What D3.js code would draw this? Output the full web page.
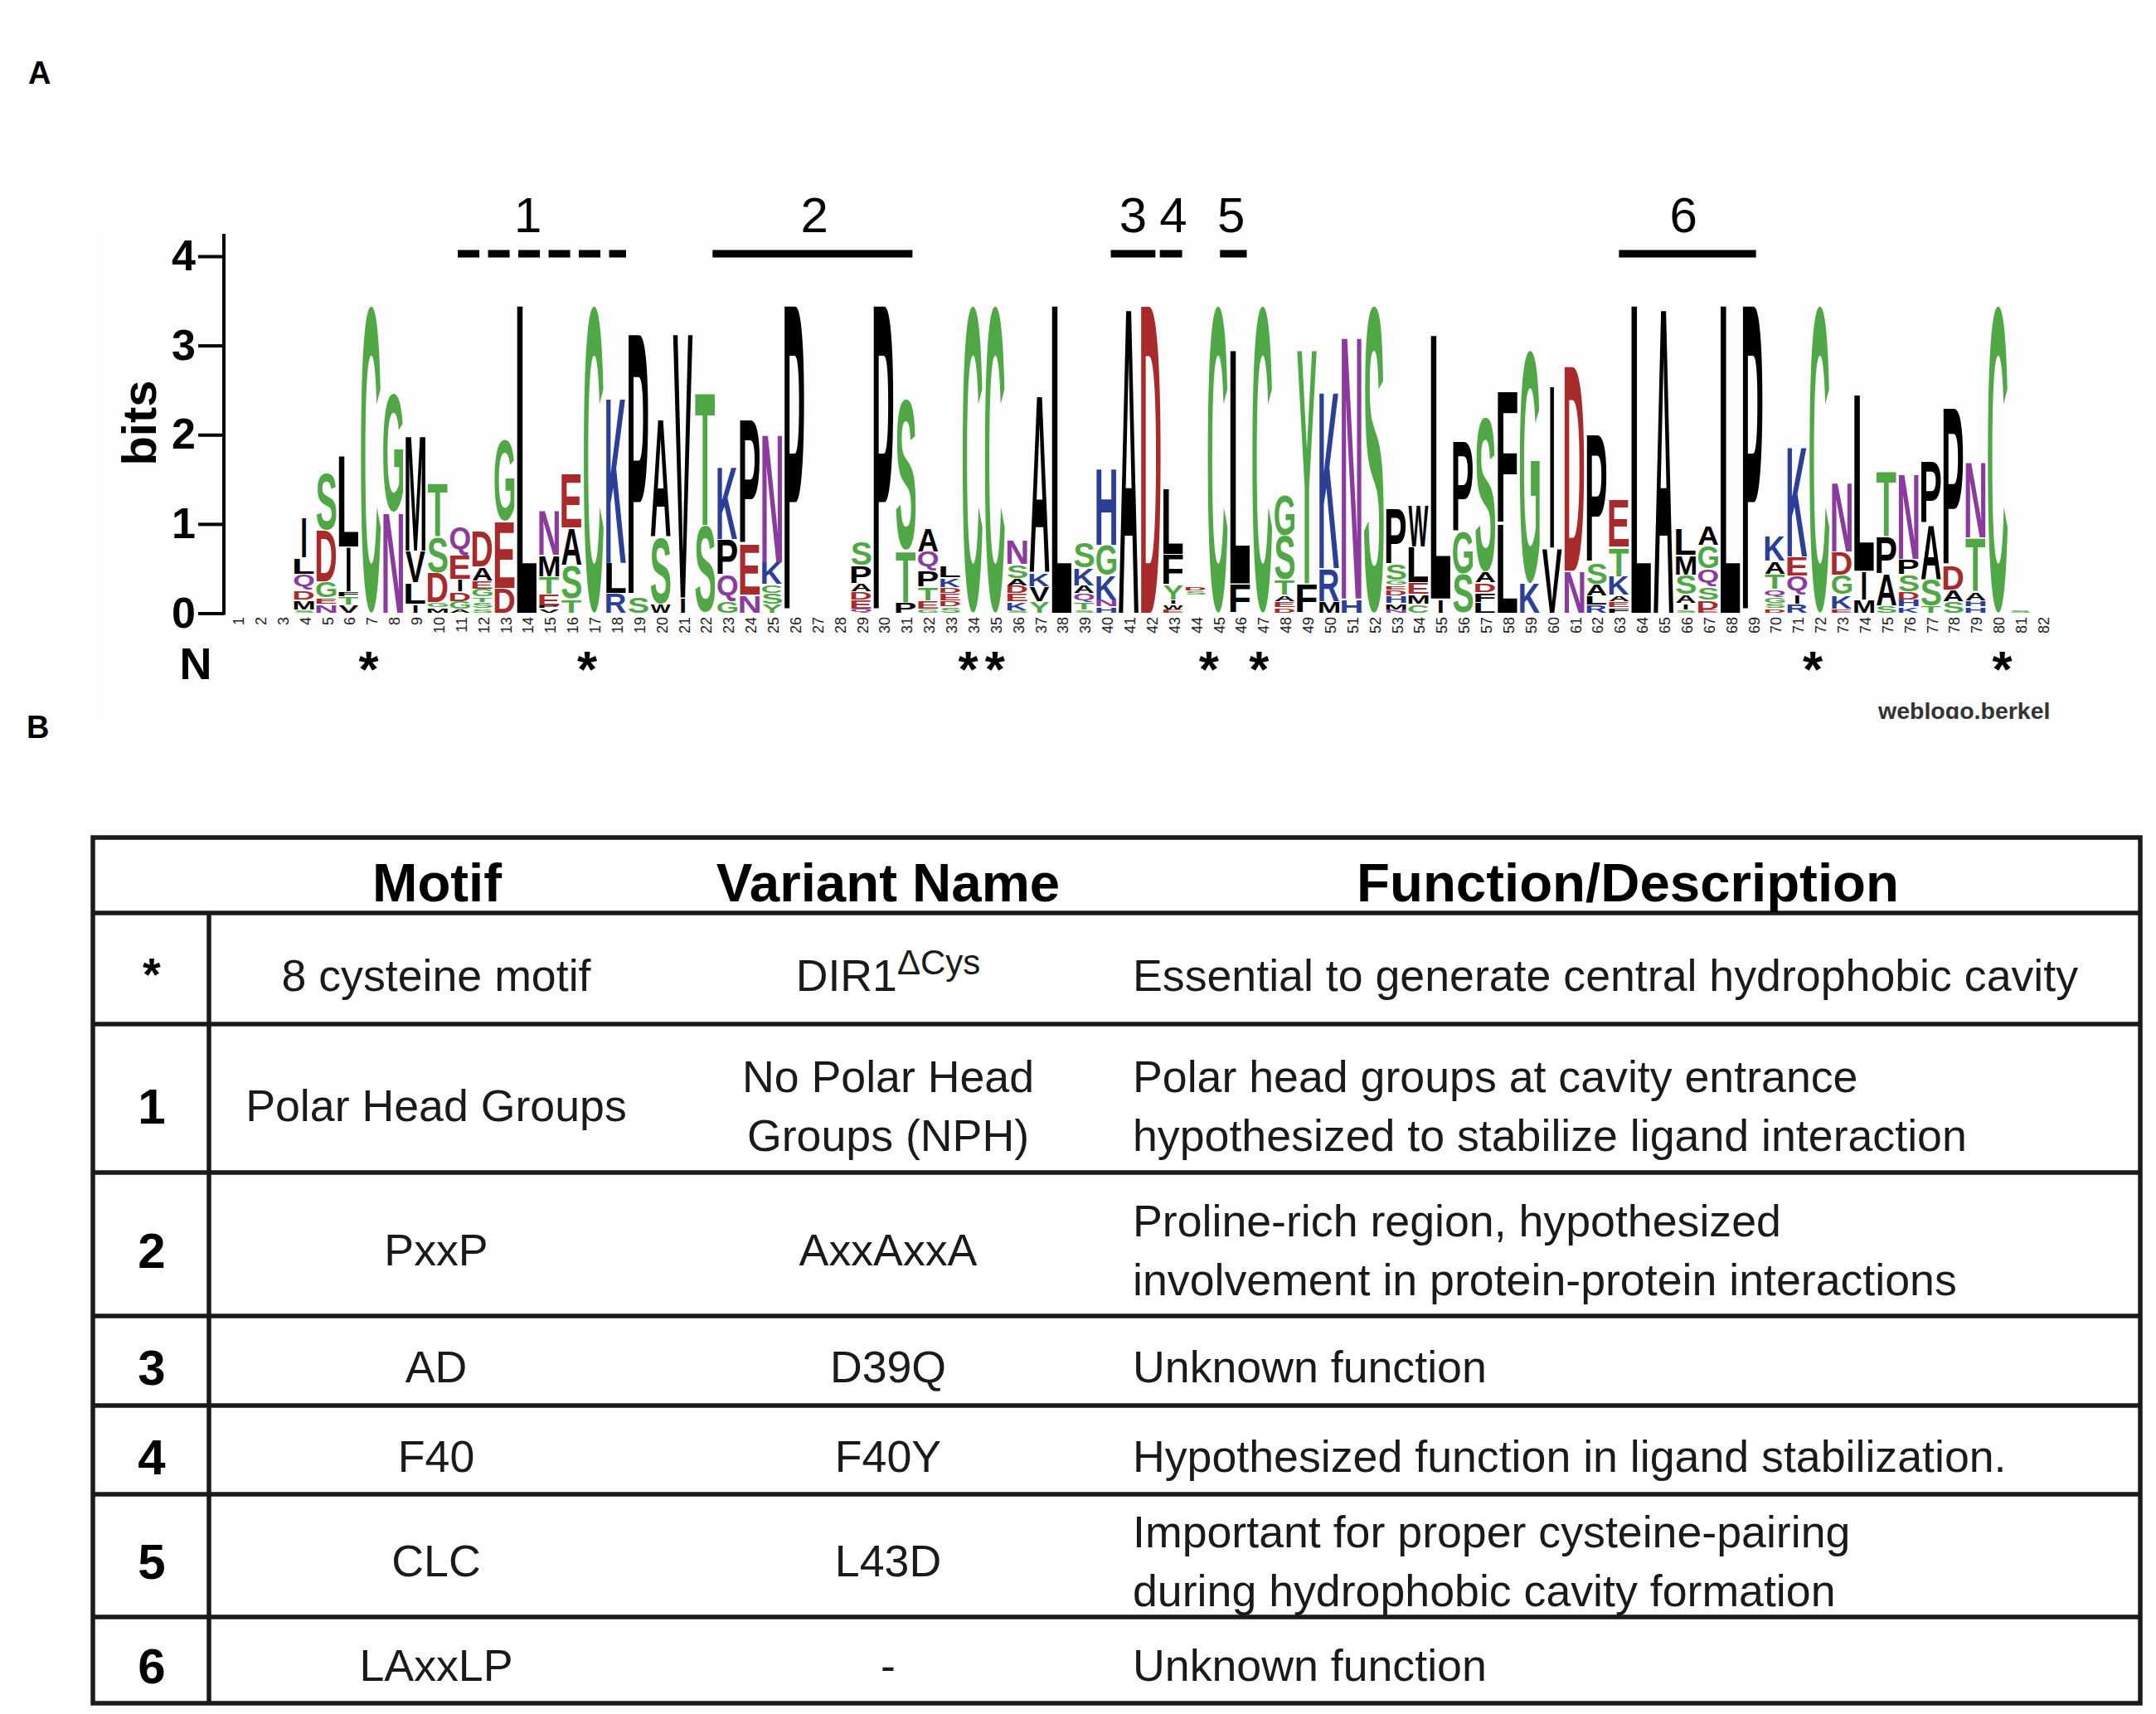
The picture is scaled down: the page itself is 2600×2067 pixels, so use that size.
<!DOCTYPE html>
<html>
<head>
<meta charset="utf-8">
<script src="https://cdn.jsdelivr.net/npm/d3@7"></script>
<style>
html, body { margin: 0; padding: 0; background: #fff; }
svg { display: block; }
text { font-family: "Liberation Sans", Arial, sans-serif; fill: #000; }
</style>
</head>
<body>
<svg id="figure"></svg>
<script>
// letters of each column, bottom to top ("-" is an empty gap in the stack)
var columnLetters = [
    "", "", "", "SMDQLI", "NEGDS", "VTFIL", "C", "NG", "ILVM", "MGDST",
    "AGDIEQ", "SSTGEAD", "DEG", "L", "VPETMN", "TSAE", "C", "RLK", "SP", "WSA",
    "IV", "ST", "GQPK", "NEP", "YSCKN", "P", "", "", "QEDAPS", "P",
    "PTS", "GETPQA", "SDEDKL", "C", "C", "SKEDASN", "YVKA", "L", "STQAKS", "HNKGH",
    "A", "D", "EWIYFL", "-SD", "C", "FL", "C", "DEATSG", "FY", "MRK",
    "HN", "S", "NMHDEGSP", "CMELW", "IL", "SGP", "LFDAS", "LF", "KG", "VI",
    "ND", "RLASP", "FEAKTE", "L", "A", "SIASML", "EDSQGA", "L", "P", "DSGQTAK",
    "RIQEK", "C", "EKGDN", "MIL", "SAPT", "KHDSPN", "TSAP", "SADP", "HHATN", "C",
    "S", ""
];

// bits of each letter, same order as columnLetters
var columnBits = [
    [], [], [], [.04,.11,.11,.18,.18,.46], [.1,.07,.18,.58,.65], [.09,.09,.06,.5,1.02], [3.45], [1.13,1.33], [.1,.24,.36,1.3], [.06,.06,.33,.4,.6],
    [.04,.09,.11,.14,.27,.32], [.05,.07,.06,.09,.09,.16,.4], [.28,.75,.92], [3.45], [.05,.03,.13,.2,.24,.5], [.16,.38,.42,.6], [3.45], [.22,.34,1.87], [.18,2.95], [.1,.75,1.33],
    [.17,2.96], [.98,1.5], [.13,.3,.4,.82], [.2,.57,1.4], [.1,.12,.1,.25,1.45], [3.45], [], [], [.05,.1,.09,.09,.2,.27], [3.45],
    [.12,.58,1.7], [.05,.09,.15,.18,.22,.26], [.07,.07,.08,.07,.11,.13], [3.45], [3.45], [.03,.1,.09,.09,.08,.16,.27], [.13,.17,.16,2.0], [3.45], [.04,.08,.1,.09,.2,.29], [.07,.08,.27,.34,.87],
    [3.45], [3.45], [.04,.06,.05,.17,.34,.74], [.2,.05,.05], [3.45], [.33,2.62], [3.45], [.06,.07,.07,.17,.5,.46], [.33,2.62], [.13,.37,2.0],
    [.16,2.97], [3.45], [.04,.07,.08,.07,.05,.06,.18,.62], [.1,.11,.13,.4,.46], [.16,2.96], [.44,.47,1.01], [.12,.11,.11,.12,1.74], [1.0,1.48], [.33,2.62], [.73,1.84],
    [.47,2.3], [.09,.1,.13,.24,1.44], [.06,.07,.07,.21,.33,.53], [3.45], [3.45], [.04,.07,.1,.22,.22,.3], [.04,.11,.15,.2,.26,.22], [3.45], [3.45], [.05,.06,.07,.09,.17,.14,.29],
    [.1,.11,.21,.21,1.24], [3.45], [.05,.16,.22,.26,.78], [.15,.32,1.98], [.08,.36,.42,.74], [.07,.08,.09,.19,.17,.97], [.08,.3,.62,.7], [.13,.13,.27,1.77], [.07,.07,.1,.6,.85], [3.45],
    [.03], []
];

var bitTicks = [0, 1, 2, 3, 4];
var asteriskColumns = [6.9, 16.7, 33.8, 35, 44.6, 46.85, 71.7, 80.2];

// motif brackets above the logo, in column units
var motifLabels = ["1", "2", "3", "4", "5", "6"];
var motifStart = [10.9, 22.33, 40.2, 42.4, 45.1, 63];
var motifEnd = [18.45, 31.3, 42.2, 43.4, 46.3, 69.15];
var motifLabelAt = [14.05, 26.9, 41.2, 43.0, 45.6, 65.9];

// table
var tableHeaders = ["Motif", "Variant Name", "Function/Description"];
var rowKeys = ["*", "1", "2", "3", "4", "5", "6"];
var rowMotifs = ["8 cysteine motif", "Polar Head Groups", "PxxP", "AD", "F40", "CLC", "LAxxLP"];
var rowVariants = [["DIR1"], ["No Polar Head", "Groups (NPH)"], ["AxxAxxA"], ["D39Q"], ["F40Y"], ["L43D"], ["-"]];
var rowDescriptions = [
    ["Essential to generate central hydrophobic cavity"],
    ["Polar head groups at cavity entrance", "hypothesized to stabilize ligand interaction"],
    ["Proline-rich region, hypothesized", "involvement in protein-protein interactions"],
    ["Unknown function"],
    ["Hypothesized function in ligand stabilization."],
    ["Important for proper cysteine-pairing", "during hydrophobic cavity formation"],
    ["Unknown function"]
];

var letterColors = {
    C: "#4fa845", G: "#4fa845", S: "#4fa845", T: "#4fa845", Y: "#4fa845",
    K: "#2b3f98", R: "#2b3f98", H: "#2b3f98",
    D: "#a82a2a", E: "#a82a2a",
    N: "#8b3a9e", Q: "#8b3a9e"
};

var svg = d3.select("#figure")
    .attr("width", 2600)
    .attr("height", 2067);

svg.append("rect")
    .attr("width", 2600)
    .attr("height", 2067)
    .style("fill", "#fff");

svg.append("text").attr("x", 34).attr("y", 101).attr("font-size", "38px").attr("font-weight", "bold").text("A");
svg.append("text").attr("x", 32).attr("y", 890).attr("font-size", "38px").attr("font-weight", "bold").text("B");

// ---- logo ----
svg.append("rect")
    .attr("x", 113)
    .attr("y", 275)
    .attr("width", 2359)
    .attr("height", 593)
    .style("fill", "#fdfdfd");

var xScale = d3.scaleLinear().domain([1, 82]).range([286, 2463]);
var yScale = d3.scaleLinear().domain([0, 4]).range([739.5, 309]);

var yAxis = svg.append("g")
    .attr("class", "yAxis")
    .attr("transform", "translate(270,0)")
    .call(d3.axisLeft(yScale)
        .tickValues(bitTicks)
        .tickFormat(d3.format("d"))
        .tickSize(31)
        .tickPadding(3)
        .tickSizeOuter(0));
yAxis.select(".domain").remove();
yAxis.append("line")
    .attr("y1", yScale(0) + 2)
    .attr("y2", 282)
    .style("stroke", "#000")
    .style("stroke-width", "4px");
yAxis.selectAll(".tick line").style("stroke", "#000").style("stroke-width", "4px");
yAxis.selectAll(".tick text")
    .attr("font-size", "52px")
    .attr("font-weight", "bold")
    .attr("font-family", "Liberation Sans");

svg.append("text")
    .attr("transform", "translate(188,510) rotate(-90)")
    .attr("text-anchor", "middle")
    .attr("font-size", "58px")
    .attr("font-weight", "bold")
    .text("bits");

svg.append("text")
    .attr("x", 236)
    .attr("y", 819)
    .attr("text-anchor", "middle")
    .attr("font-size", "54px")
    .attr("font-weight", "bold")
    .text("N");

// ink box of a glyph, so each letter can be stretched to fill its slot
var measureCtx = document.createElement("canvas").getContext("2d");
measureCtx.font = "bold 100px 'Liberation Sans'";
var glyphBox = function(letter){
    var m = measureCtx.measureText(letter);
    return {
        left: -m.actualBoundingBoxLeft,
        right: m.actualBoundingBoxRight,
        ascent: m.actualBoundingBoxAscent,
        descent: m.actualBoundingBoxDescent
    };
};

var logo = svg.append("g").attr("class", "logo");
var glyphs = [];
columnLetters.forEach(function(letters, c){
    var total = 0;
    for (let i = 0; i < letters.length; i++) {
        var bits = columnBits[c][i];
        if(letters[i] != "-")
        {
            glyphs.push({letter: letters[i], column: c + 1, from: total, to: total + bits});
        }
        total += bits;
    }
});

logo.selectAll("text")
    .data(glyphs)
    .enter()
    .append("text")
    .attr("font-size", "100px")
    .attr("font-weight", "bold")
    .style("fill", function(d){ return letterColors[d.letter] || "#000"; })
    .attr("transform", function(d){
        var box = glyphBox(d.letter);
        var w = d.letter == "I" ? 5 : 24;
        var top = yScale(d.to);
        var bottom = yScale(d.from);
        var h = Math.max(bottom - top - 1.2, 1);
        var sx = w / (box.right - box.left);
        var sy = h / (box.ascent + box.descent);
        return "translate(" + (xScale(d.column) - w / 2) + "," + (bottom - 0.6) + ")"
            + " scale(" + sx + "," + sy + ")"
            + " translate(" + (-box.left) + "," + (-box.descent) + ")";
    })
    .text(function(d){ return d.letter; });

// column numbers
svg.append("g")
    .selectAll("text")
    .data(d3.range(1, 83))
    .enter()
    .append("text")
    .attr("transform", function(d){ return "translate(" + (xScale(d) + 8) + ",744) rotate(-90)"; })
    .attr("text-anchor", "end")
    .attr("font-size", "18px")
    .style("fill", "#222")
    .text(function(d){ return d; });

svg.append("g")
    .selectAll("text")
    .data(asteriskColumns)
    .enter()
    .append("text")
    .attr("x", function(d){ return xScale(d); })
    .attr("y", 828)
    .attr("text-anchor", "middle")
    .attr("font-size", "62px")
    .attr("font-weight", "bold")
    .text("*");

// motif brackets
var motifs = svg.append("g").attr("class", "motifs");
motifLabels.forEach(function(label, i){
    motifs.append("line")
        .attr("x1", xScale(motifStart[i]))
        .attr("x2", xScale(motifEnd[i]))
        .attr("y1", 306)
        .attr("y2", 306)
        .style("stroke", "#000")
        .style("stroke-width", "9px")
        .style("stroke-dasharray", i == 0 ? "26,10.5" : null);
    motifs.append("text")
        .attr("x", xScale(motifLabelAt[i]))
        .attr("y", 280)
        .attr("text-anchor", "middle")
        .attr("font-size", "60px")
        .text(label);
});

svg.append("clipPath")
    .attr("id", "creditClip")
    .append("rect")
    .attr("x", 2200)
    .attr("y", 840)
    .attr("width", 272)
    .attr("height", 27);

svg.append("g")
    .attr("clip-path", "url(#creditClip)")
    .append("text")
    .attr("x", 2265)
    .attr("y", 867)
    .attr("font-size", "28.5px")
    .attr("font-weight", "bold")
    .style("fill", "#333")
    .text("weblogo.berkeley.edu");

// ---- table ----
var tableLeft = 112, tableRight = 2581, keyRight = 252;
var headerTop = 1010;
var rowEdges = [1101, 1235, 1414, 1587, 1695, 1802, 1950, 2054];
var rowCenters = [1176, 1333, 1507, 1648, 1756, 1882, 2008];
var keyX = 183, motifX = 526, variantX = 1071, descX = 1366;
var lineGap = 71;
var bodySize = 53.7;

var table = svg.append("g").attr("class", "table");

table.append("rect")
    .attr("x", tableLeft)
    .attr("y", headerTop)
    .attr("width", tableRight - tableLeft)
    .attr("height", rowEdges[rowEdges.length - 1] - headerTop)
    .style("fill", "none")
    .style("stroke", "#1a1a1a")
    .style("stroke-width", "5.5px");

table.selectAll(".rowLine")
    .data(rowEdges.slice(0, -1))
    .enter()
    .append("line")
    .attr("class", "rowLine")
    .attr("x1", tableLeft)
    .attr("x2", tableRight)
    .attr("y1", function(d){ return d; })
    .attr("y2", function(d){ return d; })
    .style("stroke", "#1a1a1a")
    .style("stroke-width", "5.5px");

table.append("line")
    .attr("x1", keyRight)
    .attr("x2", keyRight)
    .attr("y1", rowEdges[0])
    .attr("y2", rowEdges[rowEdges.length - 1])
    .style("stroke", "#1a1a1a")
    .style("stroke-width", "5.5px");

var headerX = [527, 1071, 1963];
tableHeaders.forEach(function(h, i){
    table.append("text")
        .attr("x", headerX[i])
        .attr("y", 1087)
        .attr("text-anchor", "middle")
        .attr("font-size", "65.4px")
        .attr("font-weight", "bold")
        .text(h);
});

var addLines = function(lines, x, center, anchor){
    var first = center - (lines.length - 1) * lineGap / 2;
    return lines.map(function(line, i){
        return table.append("text")
            .attr("x", x)
            .attr("y", first + i * lineGap + bodySize * 0.36)
            .attr("text-anchor", anchor)
            .attr("font-size", bodySize + "px")
            .style("fill", "#1a1a1a")
            .text(line);
    });
};

rowKeys.forEach(function(key, i){
    table.append("text")
        .attr("x", keyX)
        .attr("y", rowCenters[i] + (key == "*" ? 18 : 22))
        .attr("text-anchor", "middle")
        .attr("font-size", key == "*" ? "56px" : "60px")
        .attr("font-weight", "bold")
        .text(key);
    addLines([rowMotifs[i]], motifX, rowCenters[i], "middle");
    var variantLines = addLines(rowVariants[i], variantX, rowCenters[i], "middle");
    if(i == 0)
    {
        variantLines[0].append("tspan")
            .attr("dy", "-20")
            .attr("font-size", "42px")
            .text("\u0394Cys");
    }
    addLines(rowDescriptions[i], descX, rowCenters[i], "start");
});
</script>
</body>
</html>
